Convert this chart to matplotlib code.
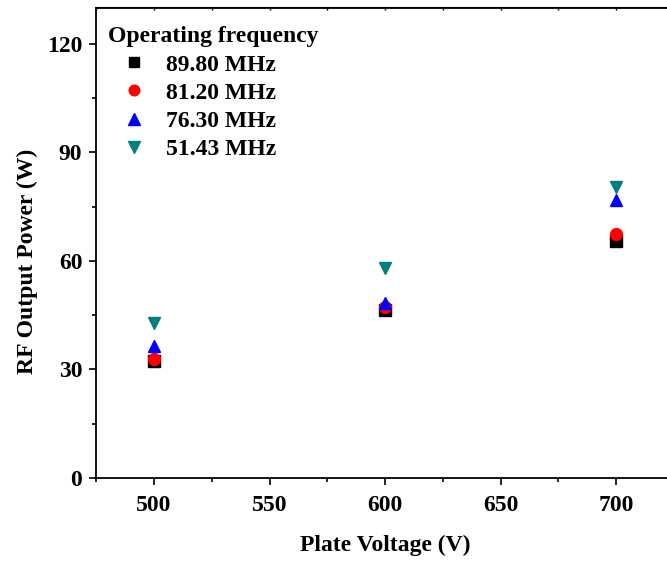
import matplotlib
matplotlib.use("Agg")
import matplotlib.pyplot as plt
from matplotlib.ticker import MultipleLocator

voltage = [500, 600, 700]
series_labels = ["89.80 MHz", "81.20 MHz", "76.30 MHz", "51.43 MHz"]
p_8980 = [32.3, 46.5, 65.4]
p_8120 = [33.0, 47.2, 67.4]
p_7630 = [36.6, 48.3, 76.8]
p_5143 = [42.9, 58.0, 80.3]

plt.rcParams['font.family'] = ['Liberation Serif', 'DejaVu Serif']
plt.rcParams['font.weight'] = 'bold'

fig = plt.figure(figsize=(6.67, 5.63), dpi=100)
W, H = 667, 563
ax = fig.add_axes([96.25 / W, 85 / H, (673.75 - 96.25) / W, (478 - 7.5) / H])

styles = [("s", "black", 8), ("o", "red", 8.5), ("^", "blue", 9), ("v", "#008080", 9)]
for data, lab, (m, c, ms) in zip([p_8980, p_8120, p_7630, p_5143], series_labels, styles):
    ax.plot(voltage, data, linestyle="none", marker=m, color=c, markersize=ms, label=lab)

ax.set_xlim(475, 725)
ax.set_ylim(0, 130)
ax.xaxis.set_major_locator(MultipleLocator(50))
ax.xaxis.set_minor_locator(MultipleLocator(25))
ax.yaxis.set_major_locator(MultipleLocator(30))
ax.yaxis.set_minor_locator(MultipleLocator(15))
ax.tick_params(which='major', direction='out', length=5, width=1.2, labelsize=17)
ax.tick_params(axis='x', which='major', pad=7)
ax.tick_params(axis='y', which='major', pad=5)
ax.tick_params(which='minor', direction='out', length=3, width=1.2)
for lbl in ax.get_xticklabels() + ax.get_yticklabels():
    lbl.set_fontweight('bold')
for s in ax.spines.values():
    s.set_linewidth(1.3)

sec = ax.secondary_xaxis('top')
sec.xaxis.set_major_locator(MultipleLocator(25))
sec.tick_params(direction='in', length=2.5, width=1.0, labelleft=False, labeltop=False)

ax.set_xlabel("Plate Voltage (V)", fontsize=17, fontweight='bold', labelpad=14)
ax.set_ylabel("RF Output Power (W)", fontsize=17, fontweight='bold')
ax.yaxis.set_label_coords(-0.1005, 0.461)

leg = ax.legend(loc='upper left', bbox_to_anchor=(-0.012, 1.0), frameon=False,
                title="Operating frequency", alignment='left',
                prop={'size': 17, 'weight': 'bold'}, handlelength=2.2,
                handletextpad=0.25, labelspacing=0.28, borderaxespad=0.4,
                markerscale=0.9)
leg.get_title().set_fontsize(17)
leg.get_title().set_fontweight('bold')

fig.savefig("out.png", dpi=100)
